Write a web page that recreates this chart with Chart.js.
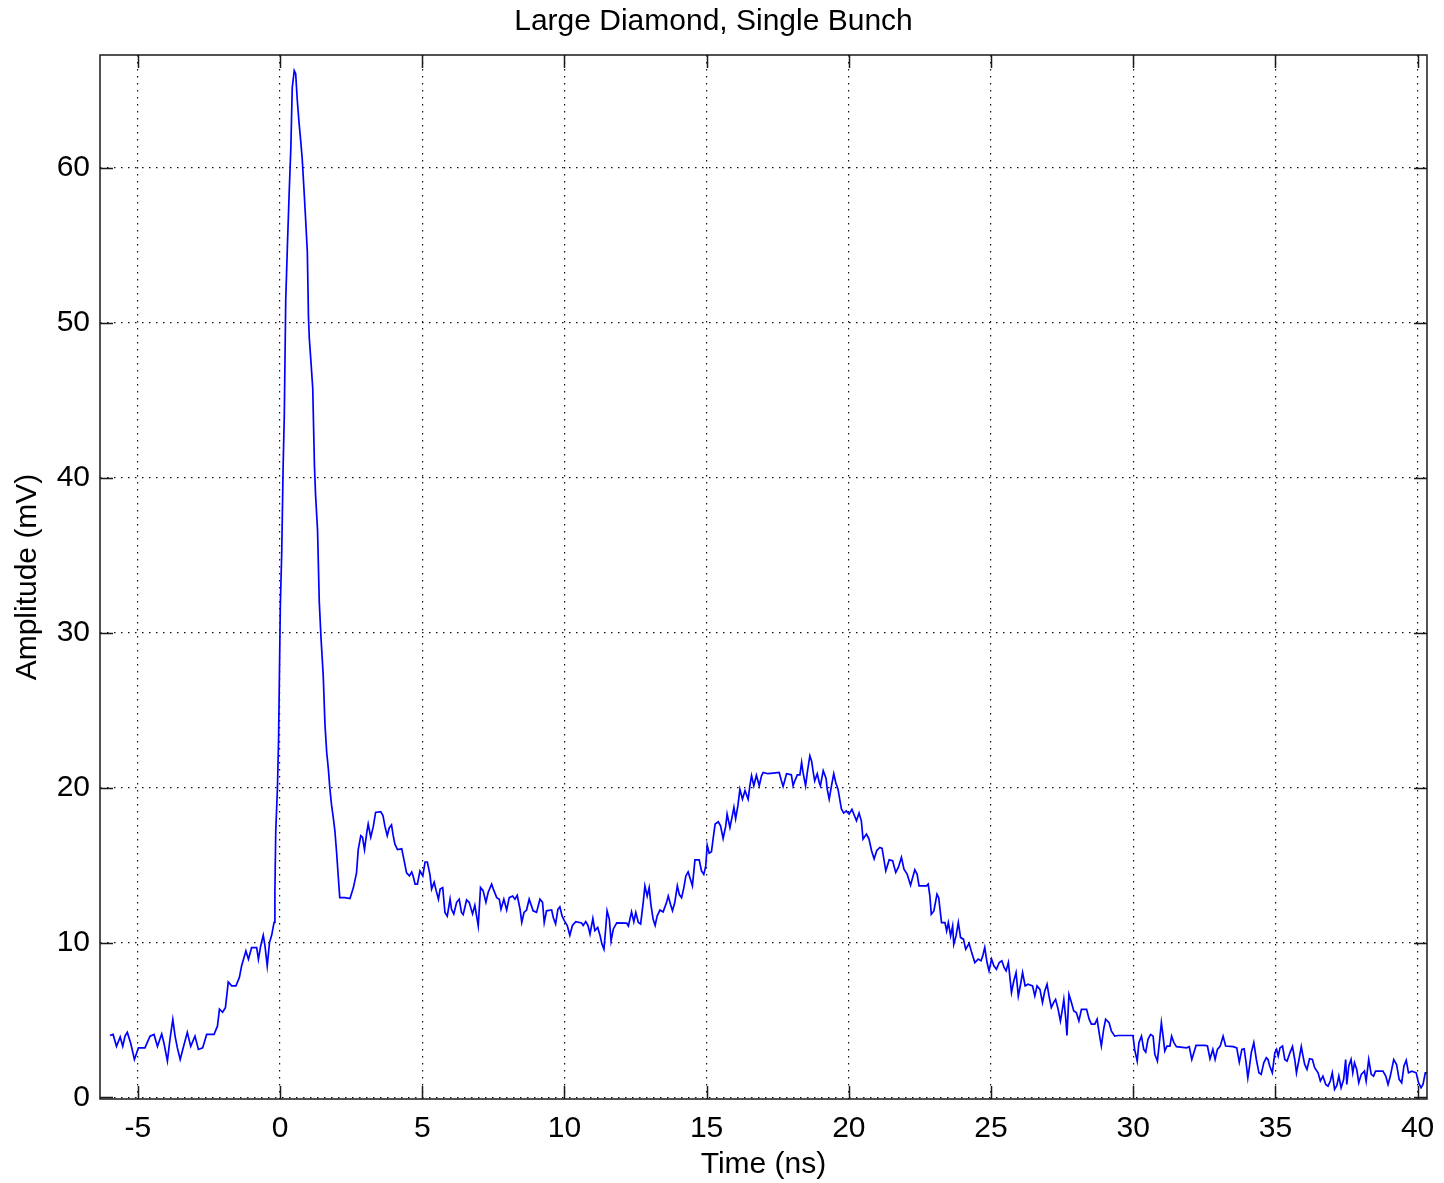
<!DOCTYPE html>
<html>
<head>
<meta charset="utf-8">
<script src="https://cdn.jsdelivr.net/npm/chart.js@4.4.1/dist/chart.umd.min.js"></script>
<style>
  html, body { margin: 0; padding: 0; background: #fff; }
  #wrap { width: 1444px; height: 1183px; }
</style>
</head>
<body>
<div id="wrap"><canvas id="scopeChart" width="1444" height="1183"></canvas></div>
<script>
// time axis (ns) and amplitude (mV)
const times = [
  -5.98, -5.87, -5.75, -5.62, -5.53, -5.45, -5.37, -5.25, -5.12, -4.98,
  -4.75, -4.57, -4.43, -4.31, -4.16, -4.08, -3.96, -3.87, -3.77, -3.69,
  -3.61, -3.51, -3.42, -3.26, -3.14, -2.99, -2.87, -2.72, -2.58, -2.32,
  -2.20, -2.13, -2.02, -1.92, -1.82, -1.70, -1.55, -1.43, -1.35, -1.20,
  -1.11, -1.00, -0.82, -0.76, -0.68, -0.59, -0.53, -0.45, -0.37, -0.29,
  -0.21, -0.18, -0.15, -0.09, -0.05, 0.01, 0.06, 0.11, 0.15, 0.20,
  0.26, 0.32, 0.38, 0.43, 0.50, 0.55, 0.61, 0.67, 0.73, 0.78,
  0.84, 0.90, 0.96, 1.00, 1.03, 1.08, 1.15, 1.21, 1.25, 1.32,
  1.38, 1.44, 1.52, 1.58, 1.64, 1.70, 1.75, 1.81, 1.87, 1.93,
  1.99, 2.05, 2.10, 2.28, 2.46, 2.58, 2.69, 2.75, 2.84, 2.90,
  2.97, 3.05, 3.10, 3.19, 3.28, 3.36, 3.54, 3.62, 3.69, 3.77,
  3.84, 3.92, 3.98, 4.04, 4.13, 4.28, 4.33, 4.45, 4.55, 4.63,
  4.68, 4.75, 4.83, 4.92, 5.02, 5.10, 5.18, 5.27, 5.33, 5.42,
  5.49, 5.57, 5.63, 5.72, 5.80, 5.88, 5.98, 6.03, 6.11, 6.21,
  6.30, 6.38, 6.44, 6.56, 6.65, 6.77, 6.85, 6.97, 7.05, 7.14,
  7.24, 7.32, 7.44, 7.50, 7.62, 7.71, 7.77, 7.87, 7.97, 8.06,
  8.18, 8.26, 8.34, 8.44, 8.50, 8.58, 8.67, 8.76, 8.90, 9.02,
  9.14, 9.23, 9.29, 9.37, 9.55, 9.61, 9.69, 9.77, 9.84, 9.92,
  10.00, 10.10, 10.19, 10.28, 10.40, 10.60, 10.66, 10.75, 10.83, 10.90,
  11.00, 11.07, 11.17, 11.25, 11.32, 11.39, 11.46, 11.50, 11.58, 11.64,
  11.72, 11.84, 12.19, 12.25, 12.36, 12.44, 12.51, 12.60, 12.68, 12.77,
  12.83, 12.91, 12.98, 13.04, 13.12, 13.19, 13.26, 13.36, 13.47, 13.59,
  13.65, 13.73, 13.80, 13.88, 13.97, 14.04, 14.12, 14.20, 14.27, 14.35,
  14.43, 14.50, 14.59, 14.74, 14.82, 14.90, 14.97, 15.02, 15.09, 15.17,
  15.23, 15.30, 15.41, 15.49, 15.58, 15.67, 15.72, 15.82, 15.91, 15.96,
  16.02, 16.10, 16.17, 16.26, 16.35, 16.46, 16.52, 16.58, 16.66, 16.75,
  16.85, 16.93, 16.99, 17.16, 17.34, 17.55, 17.63, 17.69, 17.81, 17.98,
  18.04, 18.10, 18.19, 18.28, 18.34, 18.39, 18.48, 18.54, 18.63, 18.69,
  18.75, 18.80, 18.89, 18.96, 19.00, 19.10, 19.20, 19.24, 19.31, 19.39,
  19.47, 19.54, 19.62, 19.68, 19.74, 19.82, 19.91, 20.01, 20.11, 20.27,
  20.36, 20.44, 20.50, 20.62, 20.71, 20.80, 20.89, 20.98, 21.09, 21.17,
  21.30, 21.42, 21.54, 21.65, 21.74, 21.85, 21.94, 22.05, 22.17, 22.32,
  22.40, 22.47, 22.73, 22.79, 22.85, 22.90, 22.99, 23.10, 23.16, 23.26,
  23.38, 23.44, 23.50, 23.58, 23.65, 23.69, 23.77, 23.85, 23.93, 24.03,
  24.11, 24.23, 24.32, 24.43, 24.55, 24.65, 24.71, 24.78, 24.86, 24.93,
  25.02, 25.10, 25.19, 25.29, 25.38, 25.46, 25.53, 25.61, 25.72, 25.80,
  25.88, 25.96, 26.04, 26.11, 26.20, 26.30, 26.46, 26.54, 26.62, 26.72,
  26.81, 26.89, 26.97, 27.04, 27.12, 27.20, 27.27, 27.36, 27.44, 27.51,
  27.56, 27.63, 27.67, 27.74, 27.83, 27.91, 28.00, 28.09, 28.18, 28.36,
  28.45, 28.53, 28.65, 28.73, 28.82, 28.88, 28.96, 29.03, 29.15, 29.23,
  29.35, 29.47, 29.99, 30.05, 30.14, 30.20, 30.29, 30.37, 30.44, 30.52,
  30.61, 30.70, 30.76, 30.85, 30.92, 30.99, 31.05, 31.11, 31.19, 31.29,
  31.35, 31.43, 31.52, 31.88, 31.97, 32.06, 32.14, 32.21, 32.53, 32.61,
  32.70, 32.80, 32.88, 32.96, 33.06, 33.16, 33.25, 33.52, 33.64, 33.73,
  33.82, 33.90, 33.97, 34.03, 34.09, 34.15, 34.24, 34.33, 34.42, 34.50,
  34.59, 34.68, 34.74, 34.80, 34.89, 34.98, 35.04, 35.10, 35.16, 35.25,
  35.33, 35.41, 35.51, 35.60, 35.68, 35.74, 35.83, 35.91, 35.97, 36.03,
  36.11, 36.20, 36.30, 36.38, 36.50, 36.58, 36.67, 36.77, 36.85, 36.93,
  37.00, 37.08, 37.16, 37.23, 37.31, 37.40, 37.47, 37.51, 37.58, 37.66,
  37.72, 37.78, 37.86, 37.93, 38.02, 38.13, 38.19, 38.28, 38.37, 38.45,
  38.52, 38.78, 38.88, 38.96, 39.04, 39.16, 39.26, 39.35, 39.44, 39.52,
  39.60, 39.68, 39.80, 39.95, 40.03, 40.12, 40.19, 40.27, 40.33
];
const amplitude = [
  4.00, 4.07, 3.30, 3.90, 3.30, 3.96, 4.20, 3.50, 2.45, 3.20,
  3.20, 3.96, 4.07, 3.30, 4.10, 3.50, 2.35, 3.75, 5.04, 3.96,
  3.20, 2.45, 3.10, 4.20, 3.30, 3.96, 3.10, 3.20, 4.07, 4.07,
  4.60, 5.70, 5.50, 5.80, 7.45, 7.20, 7.20, 7.74, 8.50, 9.46,
  8.92, 9.67, 9.67, 8.92, 9.78, 10.47, 9.80, 8.50, 10.00, 10.50,
  11.30, 13.30, 17.20, 20.00, 23.20, 31.70, 35.20, 40.80, 44.00, 51.40,
  55.00, 58.30, 61.30, 65.20, 66.30, 66.10, 64.30, 62.90, 61.70, 60.60,
  58.70, 56.70, 54.60, 50.40, 49.00, 47.70, 45.80, 40.80, 38.90, 36.60,
  32.00, 29.70, 27.20, 24.10, 22.30, 21.20, 20.00, 18.90, 18.10, 17.20,
  15.80, 14.20, 12.90, 12.90, 12.84, 13.55, 14.50, 16.00, 16.90, 16.80,
  16.00, 17.10, 17.65, 16.80, 17.50, 18.40, 18.45, 18.20, 17.50, 16.90,
  17.40, 17.60, 16.90, 16.35, 16.00, 16.05, 15.60, 14.50, 14.30, 14.55,
  14.30, 13.77, 13.77, 14.63, 14.30, 15.20, 15.20, 14.40, 13.45, 13.90,
  13.35, 12.80, 13.45, 13.55, 11.94, 11.70, 12.80, 12.15, 11.85, 12.60,
  12.80, 11.94, 11.80, 12.75, 12.60, 11.85, 12.40, 11.07, 13.55, 13.35,
  12.60, 13.25, 13.77, 13.45, 12.90, 12.80, 12.15, 12.80, 12.10, 12.90,
  13.00, 12.80, 13.05, 12.15, 11.30, 11.94, 12.10, 12.80, 12.05, 11.95,
  12.80, 12.60, 11.29, 12.05, 12.10, 11.60, 11.20, 12.15, 12.30, 11.70,
  11.40, 11.10, 10.47, 11.10, 11.35, 11.27, 11.10, 11.35, 11.10, 10.55,
  11.55, 10.77, 10.97, 10.47, 9.90, 9.57, 11.10, 12.05, 11.50, 10.10,
  10.88, 11.27, 11.25, 11.07, 11.98, 11.34, 11.94, 11.30, 11.20, 12.58,
  13.66, 13.00, 13.55, 12.47, 11.50, 11.10, 11.72, 12.10, 11.98, 12.58,
  13.00, 12.47, 12.05, 12.58, 13.66, 13.10, 12.90, 13.55, 14.30, 14.56,
  14.08, 13.66, 15.34, 15.34, 14.62, 14.40, 14.95, 16.29, 15.77, 15.86,
  16.72, 17.65, 17.80, 17.54, 16.72, 17.50, 18.30, 17.43, 18.24, 18.73,
  18.00, 18.84, 19.90, 19.26, 19.80, 19.26, 20.12, 20.77, 20.12, 20.80,
  20.12, 20.77, 20.98, 20.90, 20.94, 20.98, 20.44, 20.08, 20.90, 20.83,
  20.12, 20.44, 20.83, 20.83, 21.63, 20.98, 20.12, 20.98, 22.06, 21.73,
  20.98, 20.44, 20.90, 20.33, 20.12, 21.10, 20.60, 19.90, 19.26, 20.12,
  20.90, 20.33, 19.90, 19.26, 18.62, 18.36, 18.50, 18.30, 18.60, 17.86,
  18.36, 17.86, 16.68, 17.00, 16.68, 15.93, 15.40, 15.93, 16.14, 16.08,
  14.63, 15.34, 15.28, 14.53, 14.85, 15.50, 14.74, 14.42, 13.70, 14.70,
  14.42, 13.66, 13.66, 13.77, 13.01, 11.83, 12.04, 13.12, 12.90, 11.29,
  11.29, 10.75, 11.29, 10.43, 11.07, 9.89, 10.43, 11.29, 10.32, 10.22,
  9.57, 9.95, 9.35, 8.71, 8.93, 8.82, 9.14, 9.68, 8.71, 8.17,
  8.93, 8.50, 8.28, 8.71, 8.82, 8.39, 8.17, 8.71, 6.77, 7.52,
  8.06, 6.55, 7.31, 8.06, 7.20, 7.31, 7.20, 6.55, 7.20, 6.98,
  6.12, 6.87, 7.31, 6.55, 5.80, 6.12, 6.33, 5.69, 4.94, 5.69,
  6.33, 5.05, 4.00, 6.65, 6.12, 5.58, 5.48, 4.94, 5.69, 5.69,
  5.05, 4.73, 4.73, 5.05, 3.96, 3.32, 4.40, 5.05, 4.83, 4.30,
  3.96, 4.00, 4.00, 3.10, 2.35, 3.54, 3.96, 3.10, 2.93, 3.75,
  4.07, 3.96, 2.78, 2.35, 3.54, 4.83, 3.96, 2.99, 3.32, 3.32,
  3.96, 3.54, 3.28, 3.20, 3.28, 2.45, 2.93, 3.36, 3.36, 3.32,
  2.50, 3.10, 2.45, 3.10, 3.32, 3.96, 3.32, 3.28, 3.20, 2.28,
  3.10, 3.14, 2.24, 1.27, 2.03, 2.88, 3.54, 2.45, 1.59, 1.49,
  2.24, 2.56, 2.45, 2.03, 1.59, 2.88, 3.10, 2.67, 3.20, 3.32,
  2.45, 2.35, 2.88, 3.28, 2.45, 1.59, 2.45, 3.28, 2.67, 2.13,
  1.81, 2.50, 2.45, 1.92, 1.59, 1.06, 1.38, 0.84, 0.73, 1.06,
  1.59, 0.52, 0.78, 1.38, 0.63, 1.17, 2.45, 0.84, 2.03, 2.45,
  1.59, 2.24, 1.81, 0.95, 1.49, 1.70, 1.06, 2.45, 1.49, 1.38,
  1.70, 1.70, 1.38, 0.84, 1.38, 2.45, 2.13, 1.17, 0.95, 2.03,
  2.40, 1.59, 1.70, 1.59, 0.95, 0.63, 0.84, 1.59, 1.59
];
const xTicks = [-5, 0, 5, 10, 15, 20, 25, 30, 35, 40];
const yTicks = [0, 10, 20, 30, 40, 50, 60];

const FONT = "'Liberation Sans', Arial, Helvetica, sans-serif";

// matlab style box: full frame plus inward tick marks on all four sides
const boxTicks = {
  id: 'boxTicks',
  afterDraw(chart) {
    const { ctx, chartArea: a, scales: { x, y } } = chart;
    const len = 13;
    ctx.save();
    ctx.strokeStyle = '#1a1a1a';
    ctx.lineWidth = 1.5;
    ctx.strokeRect(a.left, a.top, a.right - a.left, a.bottom - a.top);
    ctx.beginPath();
    xTicks.forEach(v => {
      const p = Math.round(x.getPixelForValue(v)) + 0.5;
      ctx.moveTo(p, a.bottom); ctx.lineTo(p, a.bottom - len);
      ctx.moveTo(p, a.top); ctx.lineTo(p, a.top + len);
    });
    yTicks.forEach(v => {
      const p = Math.round(y.getPixelForValue(v)) + 0.5;
      ctx.moveTo(a.left, p); ctx.lineTo(a.left + len, p);
      ctx.moveTo(a.right, p); ctx.lineTo(a.right - len, p);
    });
    ctx.stroke();
    ctx.restore();
  }
};

const dotGrid = {
  color: '#111',
  lineWidth: 1.2,
  drawTicks: false,
};

new Chart(document.getElementById('scopeChart').getContext('2d'), {
  type: 'line',
  data: {
    datasets: [{
      data: times.map((t, i) => ({ x: t, y: amplitude[i] })),
      borderColor: '#0000ff',
      borderWidth: 1.7,
      pointRadius: 0,
      tension: 0,
      fill: false,
    }]
  },
  options: {
    responsive: false,
    animation: false,
    layout: { padding: { left: 0, right: 17, top: 0, bottom: 0 }, autoPadding: false },
    scales: {
      x: {
        type: 'linear',
        min: -6.33,
        max: 40.33,
        afterBuildTicks: s => { s.ticks = xTicks.map(v => ({ value: v })); },
        afterFit: s => { s.height = 84; s.paddingLeft = 0; s.paddingRight = 0; },
        grid: Object.assign({}, dotGrid),
        border: { display: false, dash: [1.5, 5.5] },
        ticks: { color: '#000', font: { family: FONT, size: 30 }, padding: 12, maxRotation: 0 },
        title: {
          display: true, text: 'Time (ns)', color: '#000',
          font: { family: FONT, size: 30 }, padding: { top: 0, bottom: 0 }
        }
      },
      y: {
        min: -0.1,
        max: 67.3,
        afterBuildTicks: s => { s.ticks = yTicks.map(v => ({ value: v })); },
        afterFit: s => { s.width = 100; s.paddingTop = 0; s.paddingBottom = 0; },
        grid: Object.assign({}, dotGrid),
        border: { display: false, dash: [1.5, 5.5] },
        ticks: { color: '#000', font: { family: FONT, size: 30 }, padding: 10 },
        title: {
          display: true, text: 'Amplitude (mV)', color: '#000',
          font: { family: FONT, size: 30 }, padding: { top: 10, bottom: 0 }
        }
      }
    },
    plugins: {
      legend: { display: false },
      tooltip: { enabled: false },
      title: {
        display: true,
        text: 'Large Diamond, Single Bunch',
        color: '#000',
        font: { family: FONT, size: 30, weight: 'normal' },
        padding: { top: 4, bottom: 15 }
      }
    }
  },
  plugins: [boxTicks]
});
</script>
</body>
</html>
